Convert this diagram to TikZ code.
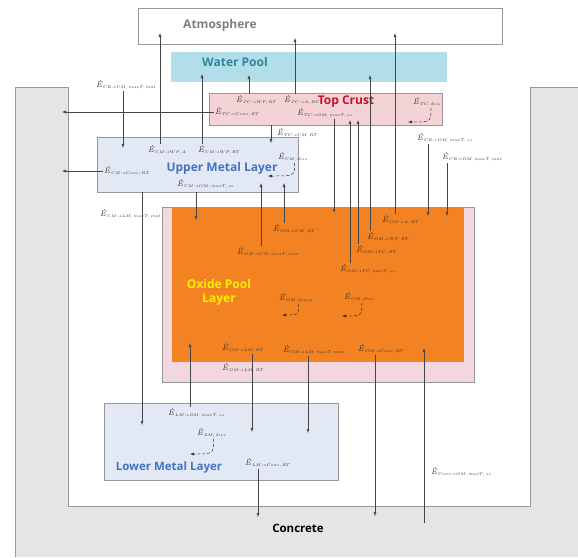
\RequirePackage{fix-cm}
\documentclass[tikz,border=0pt]{standalone}
\usepackage{fontspec}
\setsansfont{Open Sans}
\usetikzlibrary{arrows.meta,positioning}
\definecolor{ink}{RGB}{55,45,40}
\definecolor{wire}{RGB}{70,70,70}
\definecolor{frame}{RGB}{150,150,155}
\definecolor{concfill}{RGB}{229,229,229}
\definecolor{poolfill}{RGB}{178,222,234}
\definecolor{crustfill}{RGB}{243,211,214}
\definecolor{metalfill}{RGB}{226,233,245}
\definecolor{oxidefill}{RGB}{242,130,34}
\definecolor{oxideedge}{RGB}{242,216,222}
\definecolor{atmtext}{RGB}{128,128,128}
\definecolor{pooltext}{RGB}{49,133,155}
\definecolor{crusttext}{RGB}{200,16,46}
\definecolor{metaltext}{RGB}{68,114,196}
\definecolor{oxidetext}{RGB}{255,240,0}
% energy term: dotted E with a very small subscript
\newcommand{\flux}[1]{\textit{Ė}\kern0.6pt\raisebox{-1.5pt}{\fontsize{3.9}{4}\selectfont$#1$}}
\newcommand{\tofl}{{\rightarrow}}

\begin{document}
\begin{tikzpicture}[x=1pt,y=-1pt,
    layerbox/.style={draw=frame, line width=0.8pt, inner sep=0pt},
    title/.style={font=\sffamily\bfseries\fontsize{12}{14}\selectfont, inner sep=0pt},
    lab/.style={font=\fontsize{8}{9}\selectfont, text=ink, inner sep=1pt, anchor=west},
    flow/.style={draw=wire, line width=0.5pt, -{Latex[length=4pt,width=3pt]}},
    dissflow/.style={draw=ink, line width=0.5pt, densely dashed, -{Latex[length=4pt,width=3pt]}}]
  \useasboundingbox (0,0) rectangle (578,557);

  % concrete
  \fill[concfill] (15,87) -- (68,87) -- (68,506) -- (530,506) -- (530,87)
    -- (578,87) -- (578,557) -- (15,557) -- cycle;
  \draw[frame, line width=0.8pt] (15,557) -- (15,87) -- (68,87) -- (68,506)
    -- (530,506) -- (530,87) -- (578,87);

  % layers
  \node[layerbox, fill=white, minimum width=364pt, minimum height=36pt] (atm) at (320,26) {};
  \node[fill=poolfill, inner sep=0pt, minimum width=276pt, minimum height=30pt] (wp) at (309,67) {};
  \node[layerbox, fill=crustfill, minimum width=233pt, minimum height=32pt] (tc) at (325.5,109) {};
  \node[layerbox, fill=metalfill, minimum width=201pt, minimum height=55pt] (um) at (197.5,164.5) {};
  \node[layerbox, fill=oxideedge, minimum width=312pt, minimum height=175pt] (opp) at (318,294.5) {};
  \node[fill=oxidefill, inner sep=0pt, minimum width=292pt, minimum height=154pt] (om) at (318,285) {};
  \node[layerbox, fill=metalfill, minimum width=234pt, minimum height=77pt] (lm) at (221,441.5) {};

  \node[title, text=atmtext] (tAtm) at (220,25) {Atmosphere};
  \node[title, text=pooltext] (tPool) at (235,62) {Water Pool};
  \node[title, text=crusttext] (tCrust) at (346,102) {Top Crust};
  \node[title, text=metaltext] (tUpper) at (222,168) {Upper Metal Layer};
  \node[title, text=oxidetext, align=center] (tOxide) at (219,292) {Oxide Pool\\Layer};
  \node[title, text=metaltext, font=\sffamily\bfseries\fontsize{11.5}{14}\selectfont] (tLower) at (169,468) {Lower Metal Layer};
  \node[title, text=black, font=\sffamily\bfseries\fontsize{11.5}{14}\selectfont] (tConc) at (298,528) {Concrete};

  % energy terms
  \node[lab] (eCRum) at (95,85) {\flux{CR\tofl UM,maxT,mat}};
  \node[lab] (eCRss) at (416,138) {\flux{CR\tofl OM,maxT,ss}};
  \node[lab] (eCRmat) at (441,157) {\flux{CR\tofl OM,maxT,mat}};

  \node[lab] (eTCwp) at (235,100) {\flux{TC\tofl WP,RT}};
  \node[lab] (eTCa) at (283,100) {\flux{TC\tofl A,RT}};
  \node[lab] (eTCconc) at (214,112) {\flux{TC\tofl Conc,RT}};
  \node[lab] (eTCom) at (296,113) {\flux{TC\tofl OM,maxT,ss}};
  \node[lab] (eTCdiss) at (412,102) {\flux{TC,diss}};
  \node[lab] (eTCum) at (276,133) {\flux{TC\tofl UM,RT}};

  \node[lab] (eUMa) at (147,150) {\flux{UM\tofl WP,A}};
  \node[lab] (eUMwp) at (197,150) {\flux{UM\tofl WP,RT}};
  \node[lab] (eUMconc) at (103,171) {\flux{UM\tofl Conc,RT}};
  \node[lab] (eUMom) at (176,184) {\flux{UM\tofl OM,maxT,ss}};
  \node[lab] (eUMdiss) at (277,157) {\flux{UM,diss}};
  \node[lab] (eUMlm) at (99,214) {\flux{UM\tofl LM,maxT,mat}};

  \node[lab] (eOMum) at (272,229) {\flux{OM\tofl UM,RT}};
  \node[lab] (eOMumm) at (236,252) {\flux{OM\tofl UM,maxT,mat}};
  \node[lab] (eOMa) at (381,220) {\flux{OM\tofl A,RT}};
  \node[lab] (eOMwp) at (366,237) {\flux{OM\tofl WP,RT}};
  \node[lab] (eOMtc) at (355,250) {\flux{OM\tofl TC,RT}};
  \node[lab] (eOMtcs) at (339,269) {\flux{OM\tofl TC,maxT,ss}};
  \node[lab] (eOMdecay) at (278,298) {\flux{OM,decay}};
  \node[lab] (eOMdiss) at (343,297) {\flux{OM,diss}};
  \node[lab] (eOMlm) at (221,348) {\flux{OM\tofl LM,RT}};
  \node[lab] (eOMlmm) at (282,350) {\flux{OM\tofl LM,maxT,mat}};
  \node[lab] (eOMconc) at (357,349) {\flux{OM\tofl Conc,RT}};
  \node[lab] (eOMlmb) at (221,368) {\flux{OM\tofl LM,RT}};

  \node[lab] (eLMom) at (167,413) {\flux{LM\tofl OM,maxT,ss}};
  \node[lab] (eLMdiss) at (196,433) {\flux{LM,diss}};
  \node[lab] (eLMconc) at (244,463) {\flux{LM\tofl Conc,RT}};
  \node[lab] (eConcom) at (430,472) {\flux{Conc\tofl OM,maxT,ss}};

  % arrow tips
  \coordinate (tCRum) at (123,148);
  \coordinate (tCRss) at (428,216);
  \coordinate (tCRmat) at (447,216);
  \coordinate (tTCwp) at (249,75);
  \coordinate (tTCa) at (295,38);
  \coordinate (tTCconc) at (62,112);
  \coordinate (tTCom) at (334,213);
  \coordinate (tTCum) at (271,143);
  \coordinate (tTCdiss) at (408,122);
  \coordinate (tUMa) at (160,33);
  \coordinate (tUMwp) at (202,74);
  \coordinate (tUMconc) at (62,171);
  \coordinate (tUMom) at (196,220);
  \coordinate (tUMdiss) at (268,176);
  \coordinate (tUMlm) at (142,425);
  \coordinate (tOMum) at (284,183);
  \coordinate (tOMumm) at (261,183);
  \coordinate (tOMa) at (395,33);
  \coordinate (tOMwp) at (370,75);
  \coordinate (tOMtc) at (358,120);
  \coordinate (tOMtcs) at (350,120);
  \coordinate (tOMdecay) at (282,315);
  \coordinate (tOMdiss) at (342,316);
  \coordinate (tOMlm) at (252,432);
  \coordinate (tOMlmm) at (308,433);
  \coordinate (tOMconc) at (375,516);
  \coordinate (tLMom) at (190,343);
  \coordinate (tLMdiss) at (190,454);
  \coordinate (tLMconc) at (258,517);
  \coordinate (bConc) at (424,523);
  \coordinate (tConcom) at (424,348);

  % flows
  \draw[flow] (eCRum.south -| tCRum) -- (tCRum);
  \draw[flow] (eCRss.south -| tCRss) -- (tCRss);
  \draw[flow] (eCRmat.south -| tCRmat) -- (tCRmat);

  \draw[flow] (eTCwp.north -| tTCwp) -- (tTCwp);
  \draw[flow] (eTCa.north -| tTCa) -- (tTCa);
  \draw[flow] (eTCconc.west) -- (eTCconc.west -| tTCconc);
  \draw[flow] (eTCom.south -| tTCom) -- (tTCom);
  \draw[flow] (tc.south -| tTCum) -- (tTCum);

  \draw[flow] (eUMa.north -| tUMa) -- (tUMa);
  \draw[flow] (eUMwp.north -| tUMwp) -- (tUMwp);
  \draw[flow] (eUMconc.west) -- (eUMconc.west -| tUMconc);
  \draw[flow] (um.south -| tUMom) -- (tUMom);
  \draw[flow] (um.south -| tUMlm) -- (tUMlm);

  \draw[flow] (eOMum.north -| tOMum) -- (tOMum);
  \draw[flow] (eOMumm.north -| tOMumm) -- (tOMumm);
  \draw[flow] (eOMa.north -| tOMa) -- (tOMa);
  \draw[flow] (eOMwp.north -| tOMwp) -- (tOMwp);
  \draw[flow] (eOMtc.north -| tOMtc) -- (tOMtc);
  \draw[flow] (eOMtcs.north -| tOMtcs) -- (tOMtcs);
  \draw[flow] (eOMlm.south -| tOMlm) -- (tOMlm);
  \draw[flow] (eOMlmm.south -| tOMlmm) -- (tOMlmm);
  \draw[flow] (eOMconc.south -| tOMconc) -- (tOMconc);

  \draw[flow] (eLMom.north -| tLMom) -- (tLMom);
  \draw[flow] (eLMconc.south -| tLMconc) -- (tLMconc);
  \draw[flow] (bConc) -- (tConcom);

  % dissipation and decay heat
  \draw[dissflow] ([xshift=4pt]eTCdiss.south) .. controls ([xshift=4pt]eTCdiss.south |- tTCdiss) .. (tTCdiss);
  \draw[dissflow] ([xshift=2pt]eUMdiss.south) .. controls ([xshift=2pt]eUMdiss.south |- tUMdiss) .. (tUMdiss);
  \draw[dissflow] ([xshift=3pt]eOMdecay.south) .. controls ([xshift=3pt]eOMdecay.south |- tOMdecay) .. (tOMdecay);
  \draw[dissflow] ([xshift=3pt]eOMdiss.south) .. controls ([xshift=3pt]eOMdiss.south |- tOMdiss) .. (tOMdiss);
  \draw[dissflow] ([xshift=2pt]eLMdiss.south) .. controls ([xshift=2pt]eLMdiss.south |- tLMdiss) .. (tLMdiss);
\end{tikzpicture}
\end{document}
